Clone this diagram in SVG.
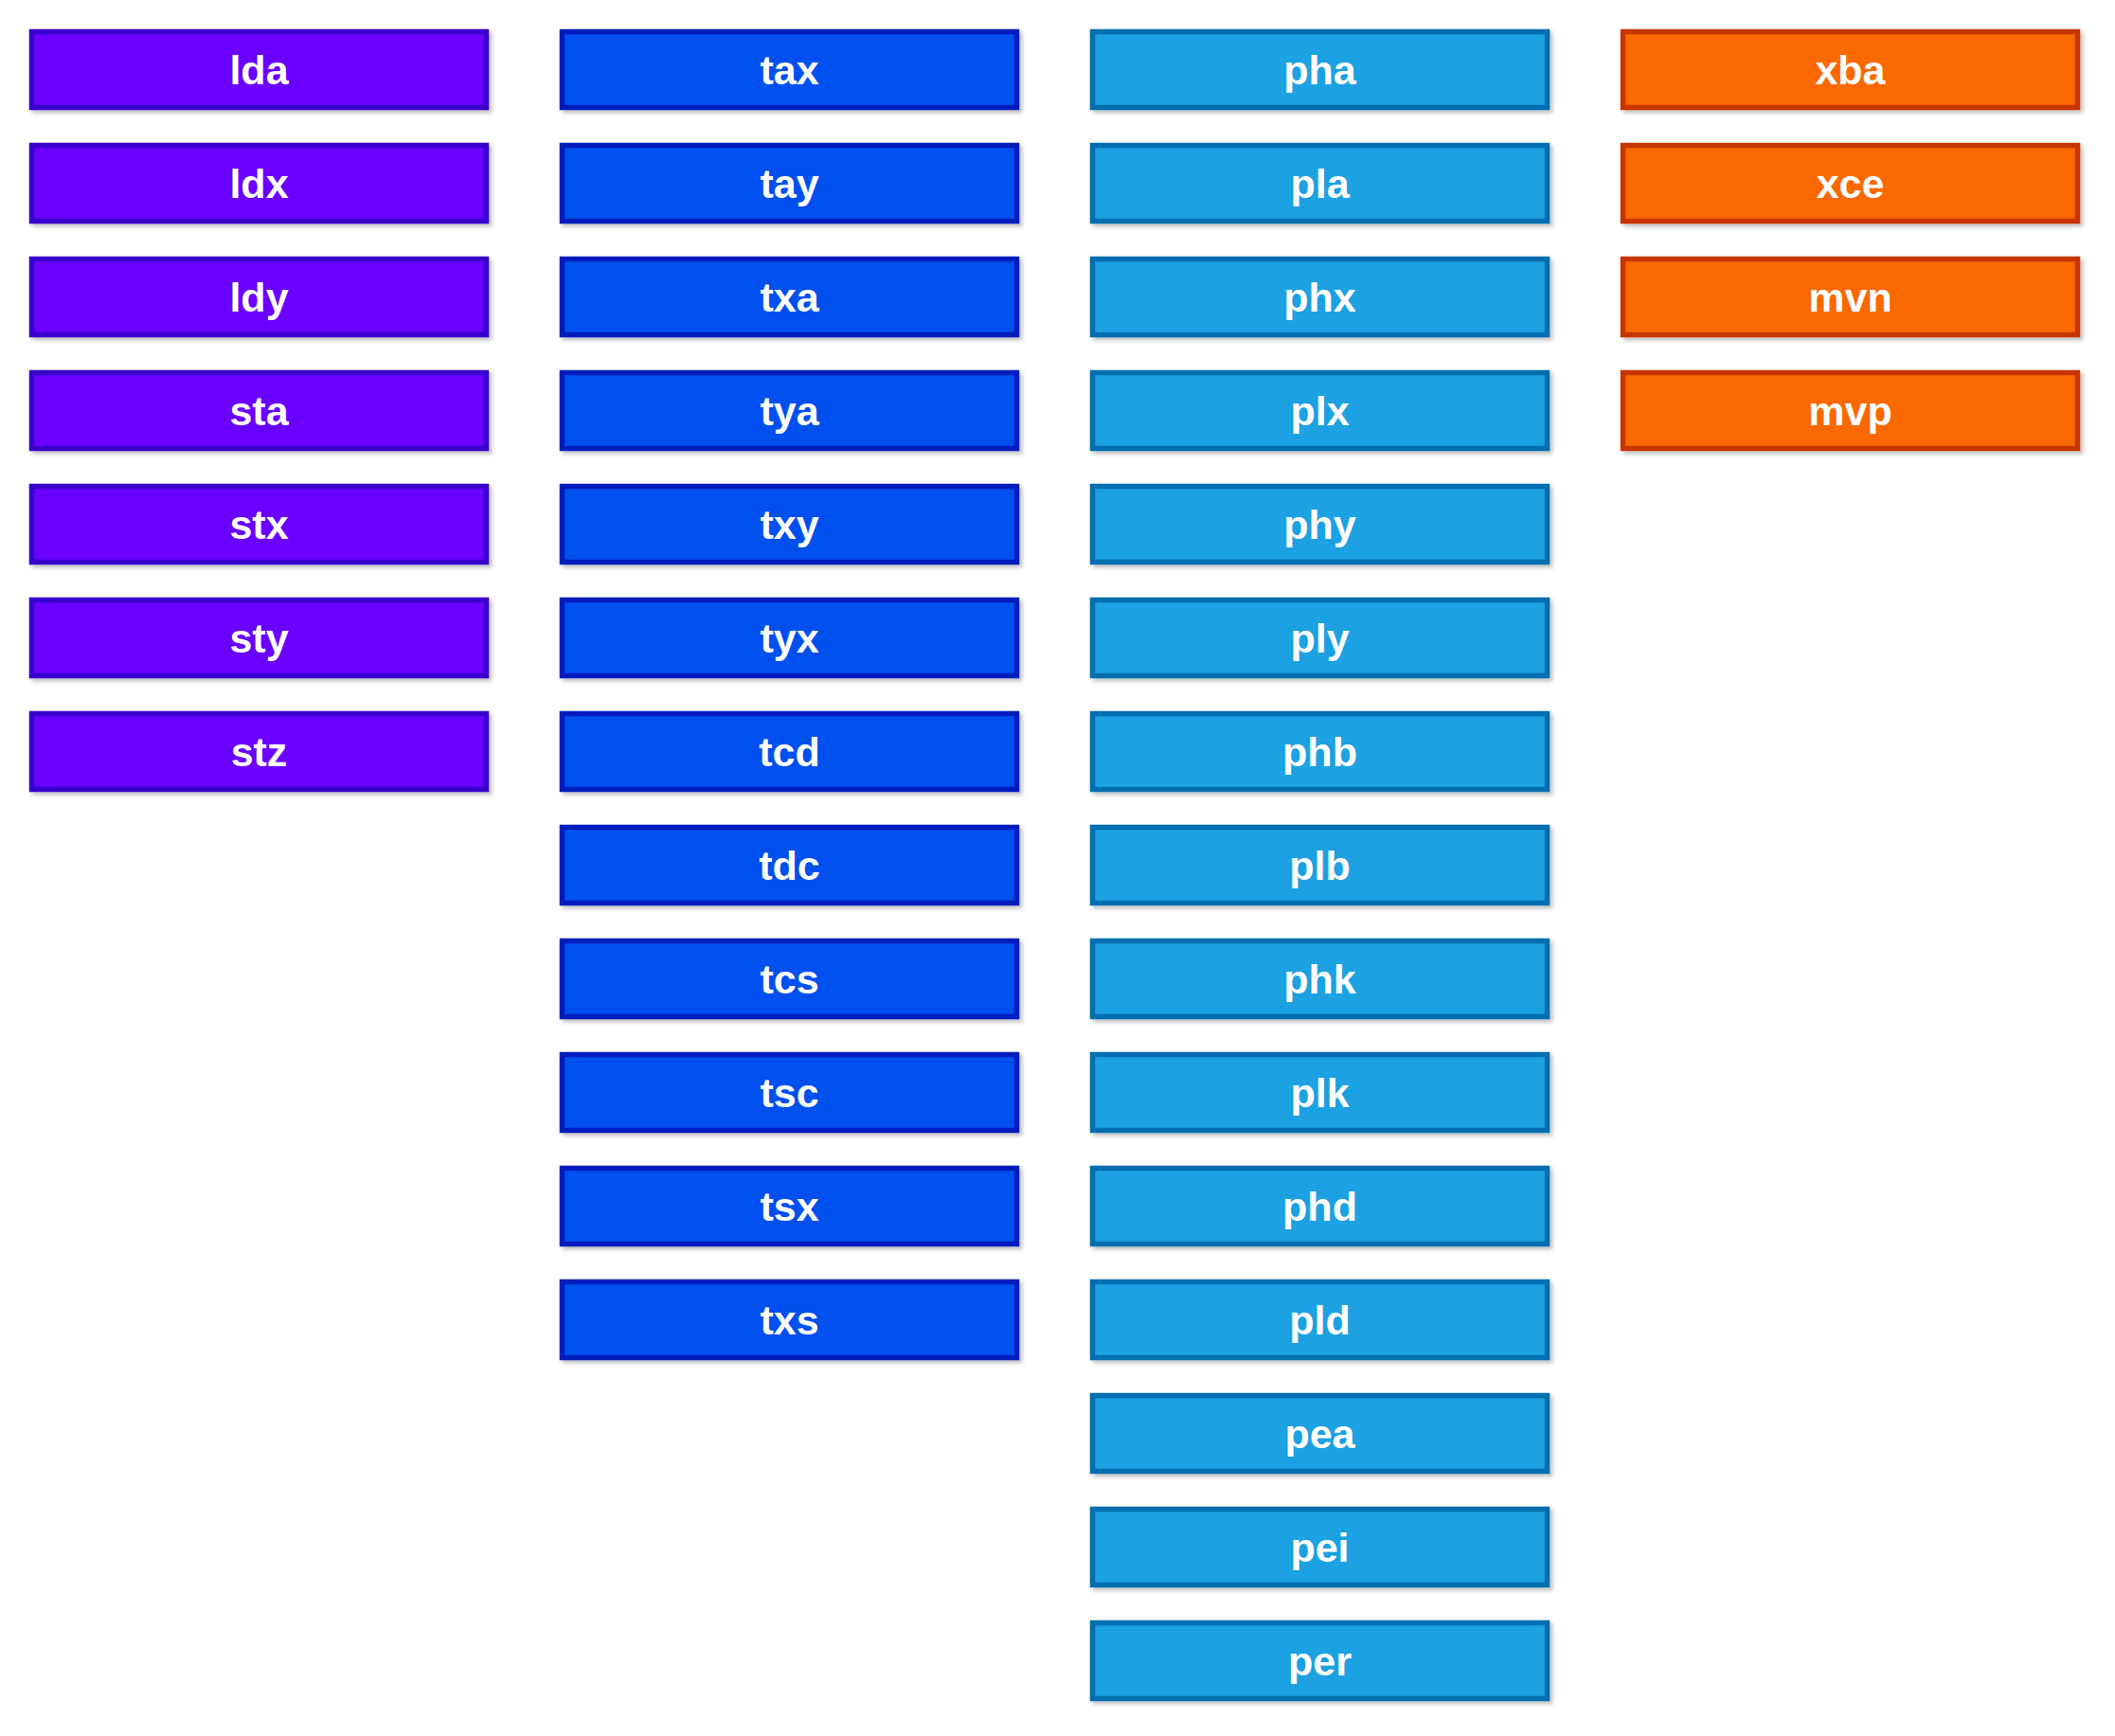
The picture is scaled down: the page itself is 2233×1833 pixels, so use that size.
<svg xmlns="http://www.w3.org/2000/svg" width="2233" height="1833" viewBox="0 0 2233 1833">
<defs>
<filter id="sh" x="-5%" y="-10%" width="115%" height="140%">
<feDropShadow dx="3" dy="3" stdDeviation="2" flood-color="#000" flood-opacity="0.25"/>
</filter>
</defs>
<style>
.n rect{stroke-width:5.5;filter:url(#sh)}
.v rect{fill:#6a00ff;stroke:#3700cc}
.c rect{fill:#0050ef;stroke:#001dbc}
.l rect{fill:#1ba1e2;stroke:#006eaf}
.o rect{fill:#fa6800;stroke:#c73500}
.n text{font-family:"Liberation Sans",Arial,sans-serif;font-weight:bold;font-size:43px;fill:#fff;text-anchor:middle}
</style>
<rect width="2233" height="1833" fill="#fff"/>
<g id="connectors"/>
<g id="n-lda" class="n v"><rect x="33.5" y="33.5" width="480" height="80"/><text x="273.5" y="88.5">lda</text></g>
<g id="n-ldx" class="n v"><rect x="33.5" y="153.5" width="480" height="80"/><text x="273.5" y="208.5">ldx</text></g>
<g id="n-ldy" class="n v"><rect x="33.5" y="273.5" width="480" height="80"/><text x="273.5" y="328.5">ldy</text></g>
<g id="n-sta" class="n v"><rect x="33.5" y="393.5" width="480" height="80"/><text x="273.5" y="448.5">sta</text></g>
<g id="n-stx" class="n v"><rect x="33.5" y="513.5" width="480" height="80"/><text x="273.5" y="568.5">stx</text></g>
<g id="n-sty" class="n v"><rect x="33.5" y="633.5" width="480" height="80"/><text x="273.5" y="688.5">sty</text></g>
<g id="n-stz" class="n v"><rect x="33.5" y="753.5" width="480" height="80"/><text x="273.5" y="808.5">stz</text></g>

<g id="n-tax" class="n c"><rect x="593.5" y="33.5" width="480" height="80"/><text x="833.5" y="88.5">tax</text></g>
<g id="n-tay" class="n c"><rect x="593.5" y="153.5" width="480" height="80"/><text x="833.5" y="208.5">tay</text></g>
<g id="n-txa" class="n c"><rect x="593.5" y="273.5" width="480" height="80"/><text x="833.5" y="328.5">txa</text></g>
<g id="n-tya" class="n c"><rect x="593.5" y="393.5" width="480" height="80"/><text x="833.5" y="448.5">tya</text></g>
<g id="n-txy" class="n c"><rect x="593.5" y="513.5" width="480" height="80"/><text x="833.5" y="568.5">txy</text></g>
<g id="n-tyx" class="n c"><rect x="593.5" y="633.5" width="480" height="80"/><text x="833.5" y="688.5">tyx</text></g>
<g id="n-tcd" class="n c"><rect x="593.5" y="753.5" width="480" height="80"/><text x="833.5" y="808.5">tcd</text></g>
<g id="n-tdc" class="n c"><rect x="593.5" y="873.5" width="480" height="80"/><text x="833.5" y="928.5">tdc</text></g>
<g id="n-tcs" class="n c"><rect x="593.5" y="993.5" width="480" height="80"/><text x="833.5" y="1048.5">tcs</text></g>
<g id="n-tsc" class="n c"><rect x="593.5" y="1113.5" width="480" height="80"/><text x="833.5" y="1168.5">tsc</text></g>
<g id="n-tsx" class="n c"><rect x="593.5" y="1233.5" width="480" height="80"/><text x="833.5" y="1288.5">tsx</text></g>
<g id="n-txs" class="n c"><rect x="593.5" y="1353.5" width="480" height="80"/><text x="833.5" y="1408.5">txs</text></g>

<g id="n-pha" class="n l"><rect x="1153.5" y="33.5" width="480" height="80"/><text x="1393.5" y="88.5">pha</text></g>
<g id="n-pla" class="n l"><rect x="1153.5" y="153.5" width="480" height="80"/><text x="1393.5" y="208.5">pla</text></g>
<g id="n-phx" class="n l"><rect x="1153.5" y="273.5" width="480" height="80"/><text x="1393.5" y="328.5">phx</text></g>
<g id="n-plx" class="n l"><rect x="1153.5" y="393.5" width="480" height="80"/><text x="1393.5" y="448.5">plx</text></g>
<g id="n-phy" class="n l"><rect x="1153.5" y="513.5" width="480" height="80"/><text x="1393.5" y="568.5">phy</text></g>
<g id="n-ply" class="n l"><rect x="1153.5" y="633.5" width="480" height="80"/><text x="1393.5" y="688.5">ply</text></g>
<g id="n-phb" class="n l"><rect x="1153.5" y="753.5" width="480" height="80"/><text x="1393.5" y="808.5">phb</text></g>
<g id="n-plb" class="n l"><rect x="1153.5" y="873.5" width="480" height="80"/><text x="1393.5" y="928.5">plb</text></g>
<g id="n-phk" class="n l"><rect x="1153.5" y="993.5" width="480" height="80"/><text x="1393.5" y="1048.5">phk</text></g>
<g id="n-plk" class="n l"><rect x="1153.5" y="1113.5" width="480" height="80"/><text x="1393.5" y="1168.5">plk</text></g>
<g id="n-phd" class="n l"><rect x="1153.5" y="1233.5" width="480" height="80"/><text x="1393.5" y="1288.5">phd</text></g>
<g id="n-pld" class="n l"><rect x="1153.5" y="1353.5" width="480" height="80"/><text x="1393.5" y="1408.5">pld</text></g>
<g id="n-pea" class="n l"><rect x="1153.5" y="1473.5" width="480" height="80"/><text x="1393.5" y="1528.5">pea</text></g>
<g id="n-pei" class="n l"><rect x="1153.5" y="1593.5" width="480" height="80"/><text x="1393.5" y="1648.5">pei</text></g>
<g id="n-per" class="n l"><rect x="1153.5" y="1713.5" width="480" height="80"/><text x="1393.5" y="1768.5">per</text></g>

<g id="n-xba" class="n o"><rect x="1713.5" y="33.5" width="480" height="80"/><text x="1953.5" y="88.5">xba</text></g>
<g id="n-xce" class="n o"><rect x="1713.5" y="153.5" width="480" height="80"/><text x="1953.5" y="208.5">xce</text></g>
<g id="n-mvn" class="n o"><rect x="1713.5" y="273.5" width="480" height="80"/><text x="1953.5" y="328.5">mvn</text></g>
<g id="n-mvp" class="n o"><rect x="1713.5" y="393.5" width="480" height="80"/><text x="1953.5" y="448.5">mvp</text></g>
</svg>
